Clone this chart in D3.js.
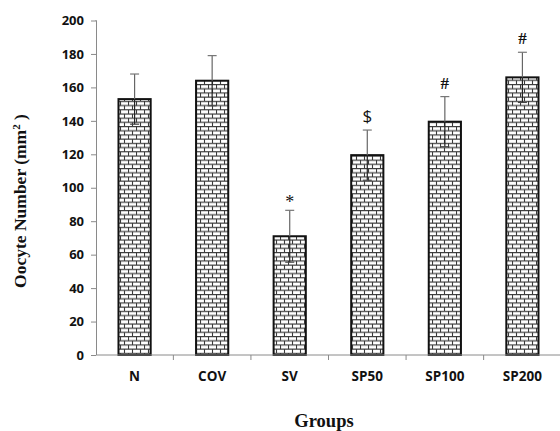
<!DOCTYPE html>
<html>
<head>
<meta charset="utf-8">
<script src="https://cdn.jsdelivr.net/npm/d3@7"></script>
<style>
  body { margin: 0; background: #fff; }
</style>
</head>
<body>
<script>
// data
const groups = ["N", "COV", "SV", "SP50", "SP100", "SP200"];
const means = [153, 164, 71, 119.5, 139.5, 166];
const errors = [15, 15, 15.5, 15, 15, 15];
const marks = ["", "", "*", "$", "#", "#"];
const yTicks = [0, 20, 40, 60, 80, 100, 120, 140, 160, 180, 200];

const w = 560, h = 431;
const margin = {top: 20.5, right: 0, bottom: 76, left: 96};

const svg = d3.select("body").append("svg")
  .attr("width", w)
  .attr("height", h);

// brick fill
const defs = svg.append("defs");
const pat = defs.append("pattern")
  .attr("id", "brick")
  .attr("patternUnits", "userSpaceOnUse")
  .attr("width", 8)
  .attr("height", 8.4);
pat.append("rect").attr("width", 8).attr("height", 8.4).attr("fill", "#fff");
pat.append("path")
  .attr("d", "M0,0.5H8M0,4.7H8M0.5,0.5V4.7M4.5,4.7V8.9")
  .attr("stroke", "#3a3a3a")
  .attr("stroke-width", 1.1)
  .attr("fill", "none");

const x = d3.scaleBand()
  .domain(groups)
  .range([margin.left, 561])
  .paddingInner(0.585)
  .paddingOuter(0.29);

const y = d3.scaleLinear()
  .domain([0, 200])
  .range([h - margin.bottom, margin.top]);

// y axis
const yAxis = svg.append("g")
  .attr("transform", `translate(${margin.left},0)`)
  .call(d3.axisLeft(y).tickValues(yTicks).tickSize(5).tickPadding(7));
yAxis.select(".domain").attr("stroke", "#8a8a8a").attr("d", `M-0.5,${y(200)}H0.5V${y(0)}`);
yAxis.selectAll(".tick line").attr("stroke", "#8a8a8a");
yAxis.selectAll(".tick text")
  .attr("font-family", "'Open Sans', sans-serif")
  .attr("font-weight", "bold")
  .attr("font-size", 13)
  .attr("fill", "#111");

// bars
svg.selectAll("rect.bar")
  .data(groups)
  .enter()
  .append("rect")
  .attr("class", "bar")
  .attr("x", d => x(d))
  .attr("y", (d, i) => y(means[i]))
  .attr("width", x.bandwidth())
  .attr("height", (d, i) => y(0) - y(means[i]))
  .attr("fill", "url(#brick)")
  .attr("stroke", "#111")
  .attr("stroke-width", 2);

// x axis (drawn after bars so baseline sits on top)
const xLine = svg.append("g");
xLine.append("line")
  .attr("x1", margin.left).attr("x2", 561)
  .attr("y1", y(0)).attr("y2", y(0))
  .attr("stroke", "#8a8a8a");
groups.slice(1).forEach(g => {
  const tx = x(g) - x.step() * x.paddingInner() / 2;
  xLine.append("line")
    .attr("x1", tx).attr("x2", tx)
    .attr("y1", y(0)).attr("y2", y(0) + 5)
    .attr("stroke", "#8a8a8a");
});

svg.selectAll("text.cat")
  .data(groups)
  .enter()
  .append("text")
  .attr("class", "cat")
  .attr("x", d => x(d) + x.bandwidth() / 2)
  .attr("y", y(0) + 26)
  .attr("text-anchor", "middle")
  .attr("font-family", "'Open Sans', sans-serif")
  .attr("font-weight", "bold")
  .attr("font-size", 13.5)
  .attr("fill", "#111")
  .text(d => d);

// error bars: lower half dark inside bar, upper half gray
const eb = svg.selectAll("g.err")
  .data(groups)
  .enter()
  .append("g")
  .attr("class", "err");
eb.append("line")
  .attr("x1", d => x(d) + x.bandwidth() / 2)
  .attr("x2", d => x(d) + x.bandwidth() / 2)
  .attr("y1", (d, i) => y(means[i] - errors[i]))
  .attr("y2", (d, i) => y(means[i]))
  .attr("stroke", "#222")
  .attr("stroke-width", 1.2);
eb.append("line")
  .attr("x1", d => x(d) + x.bandwidth() / 2)
  .attr("x2", d => x(d) + x.bandwidth() / 2)
  .attr("y1", (d, i) => y(means[i]))
  .attr("y2", (d, i) => y(means[i] + errors[i]))
  .attr("stroke", "#666")
  .attr("stroke-width", 1.2);
eb.append("line")
  .attr("x1", d => x(d) + x.bandwidth() / 2 - 4.5)
  .attr("x2", d => x(d) + x.bandwidth() / 2 + 4.5)
  .attr("y1", (d, i) => y(means[i] + errors[i]))
  .attr("y2", (d, i) => y(means[i] + errors[i]))
  .attr("stroke", "#777")
  .attr("stroke-width", 1.2);
eb.append("line")
  .attr("x1", d => x(d) + x.bandwidth() / 2 - 4.5)
  .attr("x2", d => x(d) + x.bandwidth() / 2 + 4.5)
  .attr("y1", (d, i) => y(means[i] - errors[i]))
  .attr("y2", (d, i) => y(means[i] - errors[i]))
  .attr("stroke", "#444")
  .attr("stroke-width", 1.2);

// significance marks
svg.selectAll("text.sig")
  .data(groups)
  .enter()
  .append("text")
  .attr("class", "sig")
  .attr("x", d => x(d) + x.bandwidth() / 2)
  .attr("y", (d, i) => y(means[i] + errors[i]) - (marks[i] === "*" ? 2 : 8))
  .attr("text-anchor", "middle")
  .attr("font-family", (d, i) => marks[i] === "$" ? "'Open Sans', sans-serif" : "'Liberation Serif', serif")
  .attr("font-weight", (d, i) => marks[i] === "#" ? "bold" : "normal")
  .attr("font-size", (d, i) => marks[i] === "*" ? 18 : 17)
  .attr("fill", "#111")
  .text((d, i) => marks[i]);

// axis titles
svg.append("text")
  .attr("transform", "translate(26,201) rotate(-90)")
  .attr("text-anchor", "middle")
  .attr("font-family", "'Liberation Serif', serif")
  .attr("font-weight", "bold")
  .attr("font-size", 17.5)
  .attr("fill", "#111")
  .text("Oocyte Number (mm")
  .append("tspan")
  .attr("baseline-shift", "super")
  .attr("font-size", 11)
  .text("2")
  .select(function() { return this.parentNode; })
  .append("tspan")
  .text(" )");

svg.append("text")
  .attr("x", 324)
  .attr("y", 427)
  .attr("text-anchor", "middle")
  .attr("font-family", "'Liberation Serif', serif")
  .attr("font-weight", "bold")
  .attr("font-size", 18.5)
  .attr("fill", "#111")
  .text("Groups");
</script>
</body>
</html>
